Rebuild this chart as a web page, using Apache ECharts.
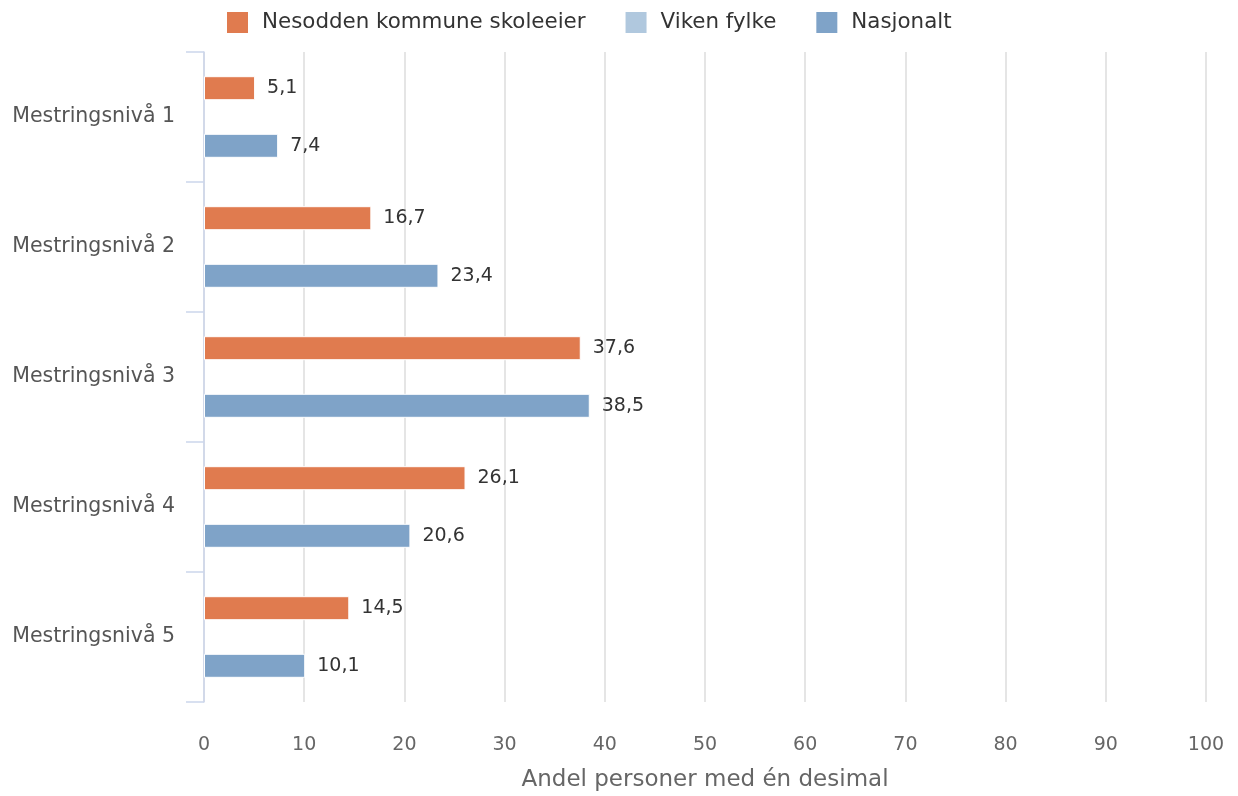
<!DOCTYPE html>
<html>
<head>
<meta charset="utf-8">
<script src="https://cdn.jsdelivr.net/npm/echarts@6/dist/echarts.min.js"></script>
<style>
html,body{margin:0;padding:0;background:#fff;}
#chart{width:1238px;height:796px;}
</style>
</head>
<body>
<div id="chart"></div>
<script>
const categories = ['Mestringsnivå 1','Mestringsnivå 2','Mestringsnivå 3','Mestringsnivå 4','Mestringsnivå 5'];
const seriesNames = ['Nesodden kommune skoleeier','Viken fylke','Nasjonalt'];
const nesodden = [5.1, 16.7, 37.6, 26.1, 14.5];
const viken = [null, null, null, null, null];
const nasjonalt = [7.4, 23.4, 38.5, 20.6, 10.1];
const xTicks = [0,10,20,30,40,50,60,70,80,90,100];
const axisTitle = 'Andel personer med én desimal';

const FONT = 'DejaVu Sans';
const colors = ['#E07B4F','#B0C8DE','#7FA3C8'];

const chart = echarts.init(document.getElementById('chart'), null, {renderer:'canvas'});
const labelCfg = {
  show: true, position: 'right', distance: 12,
  fontFamily: FONT, fontSize: 19, color: '#333',
  formatter: p => (p.value == null ? '' : Number(p.value).toFixed(1).replace('.', ','))
};
function mk(name, data, color){
  return {
    name, type:'bar', data,
    barWidth: 24, barGap: '20%',
    itemStyle: {color, borderColor:'#fff', borderWidth:1},
    label: labelCfg,
    emphasis: {disabled:true},
    animation:false
  };
}
chart.setOption({
  animation:false,
  color: colors,
  legend: {
    top: 7, left: 222,
    itemWidth: 21, itemHeight: 21, itemGap: 40,
    icon: 'rect',
    itemStyle: {borderWidth: 0},
    textStyle: {fontFamily: FONT, fontSize: 21.4, color:'#333', padding:[0,0,0,9]},
    data: seriesNames
  },
  grid: {left: 204, right: 32, top: 52, bottom: 94, containLabel:false, outerBoundsMode:'none'},
  xAxis: {
    type:'value', min: xTicks[0], max: xTicks[xTicks.length-1], interval: 10,
    axisLine:{show:false}, axisTick:{show:false},
    splitLine:{show:true, lineStyle:{color:'#dcdcdc', width:1.5}},
    axisLabel:{fontFamily: FONT, fontSize: 19, color:'#666', margin: 34},
    name: axisTitle, nameLocation:'middle', nameGap: 67,
    nameTextStyle:{fontFamily: FONT, fontSize: 23, color:'#666'}
  },
  yAxis: {
    type:'category', data: categories, inverse:true,
    axisLine:{show:true, lineStyle:{color:'#ccd6eb', width:1.5}},
    axisTick:{show:true, length:18, lineStyle:{color:'#ccd6eb', width:1.5}},
    axisLabel:{fontFamily: FONT, fontSize: 20.5, color:'#555', margin: 29},
    splitLine:{show:false}
  },
  series: [mk(seriesNames[0], nesodden, colors[0]), mk(seriesNames[1], viken, colors[1]), mk(seriesNames[2], nasjonalt, colors[2])]
});
</script>
</body>
</html>
